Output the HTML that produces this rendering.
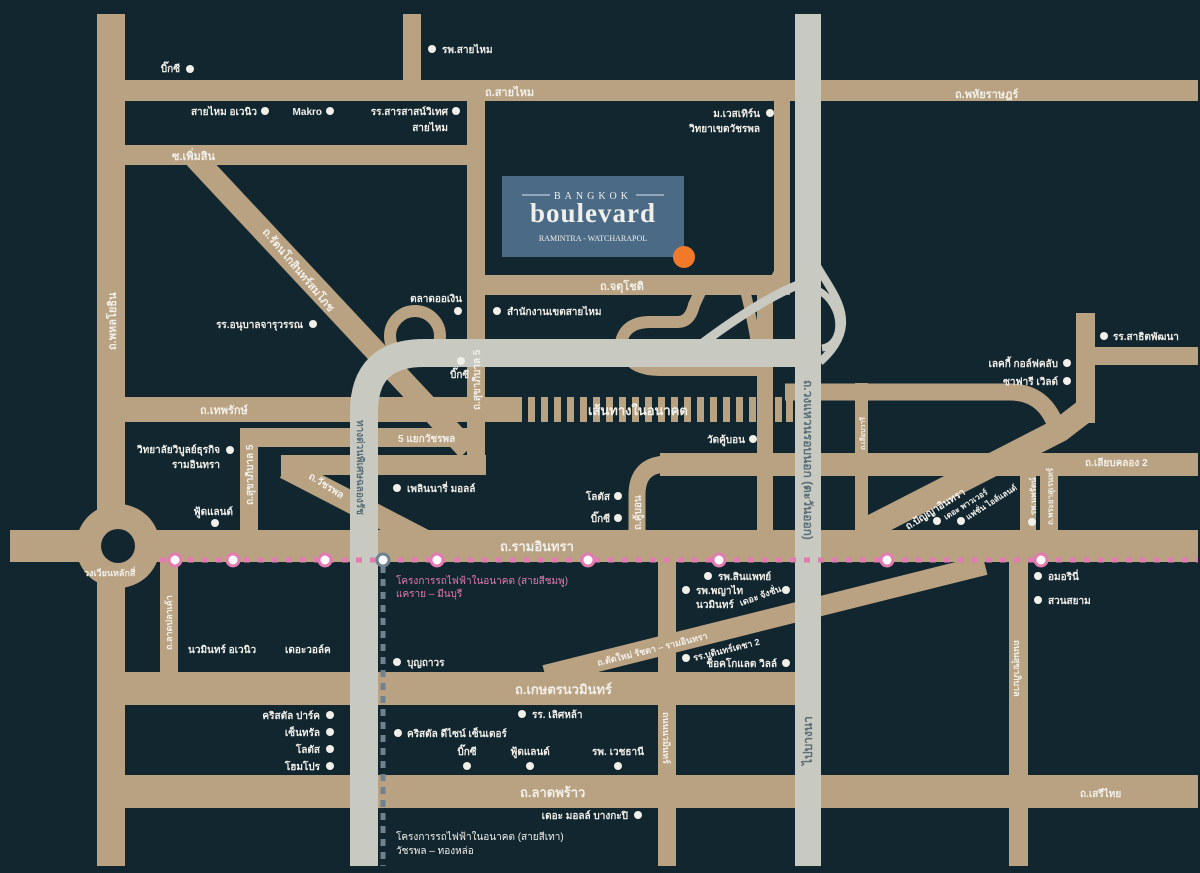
<!DOCTYPE html>
<html><head><meta charset="utf-8"><style>
html,body{margin:0;padding:0;background:#12262f;}
svg{display:block}
text{font-family:"Liberation Sans","Noto Sans CJK SC",sans-serif;fill:#f1efe9;font-size:10px;font-weight:bold}
.rd{font-size:11px}
.big{font-size:13px}
.g{fill:#5b6f78}
.pk{fill:#e27bb0;font-weight:normal}
</style></head><body>
<svg width="1200" height="873" viewBox="0 0 1200 873" xmlns="http://www.w3.org/2000/svg">
<rect width="1200" height="873" fill="#12262f"/>
<g fill="#b9a282">
<rect x="97" y="14" width="28" height="852"/>
<rect x="97" y="80" width="1101" height="21"/>
<rect x="403" y="14" width="18" height="66"/>
<rect x="125" y="145" width="343" height="20"/>
<rect x="467" y="100" width="18" height="375"/>
<rect x="485" y="275" width="305" height="20"/>
<rect x="774" y="100" width="16" height="190"/>
<rect x="125" y="397" width="390" height="25"/>
<rect x="240" y="428" width="230" height="19"/>
<rect x="240" y="428" width="18" height="104"/>
<rect x="281" y="455" width="205" height="20"/>
<rect x="10" y="530" width="1188" height="32"/>
<circle cx="118" cy="546" r="42"/>
<rect x="160" y="562" width="18" height="110"/>
<rect x="125" y="672" width="670" height="33"/>
<rect x="125" y="775" width="1073" height="33"/>
<rect x="658" y="562" width="18" height="304"/>
<rect x="1009" y="562" width="19" height="304"/>
<rect x="757" y="290" width="16" height="240"/>
<rect x="855" y="383" width="13" height="147"/>
<rect x="1076" y="313" width="19" height="110"/>
<rect x="1095" y="347" width="103" height="18"/>
<rect x="660" y="453" width="538" height="23"/>
<rect x="1040" y="470" width="18" height="60"/>
<rect x="1020" y="470" width="16" height="60"/>
</g>
<g fill="none" stroke="#b9a282">
<path d="M637,530 L637,495 Q637,464 668,464 L680,464" stroke-width="17"/>
<path d="M195,158 L468,450" stroke-width="22"/>
<path d="M285,468 L428,542" stroke-width="22"/>
<path d="M865,530 L1060,430 L1086,410" stroke-width="24"/>
<path d="M545,675 L985,565" stroke-width="20"/>
<path d="M785,392 L1010,392 Q1050,392 1060,440" stroke-width="17"/>
<circle cx="415" cy="336" r="25" stroke-width="12"/>
<path d="M620,352 Q620,322 650,322 L678,322 Q690,322 694,305 L700,292" stroke-width="12"/>
<path d="M625,352 Q632,370 660,370 L760,370" stroke-width="12"/>
<path d="M745,290 Q755,330 760,370" stroke-width="10"/>
<path d="M782,255 Q782,280 760,292" stroke-width="10"/>
</g>
<g fill="#b9a282">
<rect x="515" y="397" width="7" height="25"/><rect x="528" y="397" width="7" height="25"/><rect x="541" y="397" width="7" height="25"/><rect x="554" y="397" width="7" height="25"/><rect x="567" y="397" width="7" height="25"/><rect x="580" y="397" width="7" height="25"/><rect x="593" y="397" width="7" height="25"/><rect x="606" y="397" width="7" height="25"/><rect x="619" y="397" width="7" height="25"/><rect x="632" y="397" width="7" height="25"/><rect x="645" y="397" width="7" height="25"/><rect x="658" y="397" width="7" height="25"/><rect x="671" y="397" width="7" height="25"/><rect x="684" y="397" width="7" height="25"/><rect x="697" y="397" width="7" height="25"/><rect x="710" y="397" width="7" height="25"/><rect x="723" y="397" width="7" height="25"/><rect x="736" y="397" width="7" height="25"/><rect x="749" y="397" width="7" height="25"/><rect x="775" y="397" width="7" height="25"/><rect x="786" y="397" width="7" height="25"/>
</g>
<circle cx="118" cy="546" r="17" fill="#12262f"/>
<g fill="none" stroke="#c8cac2">
<path d="M364,866 L364,412 Q364,353 424,353 L808,353" stroke-width="28"/>
<path d="M700,345 Q760,300 800,284" stroke-width="9"/>
<path d="M815,262 C830,292 865,322 820,362" stroke-width="8"/>
<path d="M818,290 C845,305 845,345 822,348" stroke-width="7"/>
</g>
<rect x="795" y="14" width="26" height="852" fill="#c8cac2"/>
<line x1="160" y1="560" x2="1198" y2="560" stroke="#e27bb0" stroke-width="5" stroke-dasharray="6,8"/>
<line x1="383" y1="566" x2="383" y2="866" stroke="#6f8290" stroke-width="5" stroke-dasharray="7,6"/>
<g fill="#fff" stroke="#e27bb0" stroke-width="3">
<circle cx="175" cy="560" r="6"/><circle cx="233" cy="560" r="6"/><circle cx="325" cy="560" r="6"/><circle cx="437" cy="560" r="6"/><circle cx="588" cy="560" r="6"/><circle cx="719" cy="560" r="6"/><circle cx="887" cy="560" r="6"/><circle cx="1041" cy="560" r="6"/>
</g>
<circle cx="383" cy="560" r="6" fill="#fff" stroke="#6f8290" stroke-width="3"/>
<rect x="502" y="176" width="182" height="81" fill="#4a6a86"/>
<line x1="522" y1="195" x2="550" y2="195" stroke="#dfe4ea" stroke-width="1"/><line x1="636" y1="195" x2="664" y2="195" stroke="#dfe4ea" stroke-width="1"/>
<text x="593" y="199" text-anchor="middle" style="font-family:'Liberation Serif',serif;font-size:10px;letter-spacing:4px;font-weight:normal">BANGKOK</text>
<text x="593" y="222" text-anchor="middle" style="font-family:'Liberation Serif',serif;font-size:27px;letter-spacing:1px">boulevard</text>
<text x="593" y="241" text-anchor="middle" style="font-family:'Liberation Serif',serif;font-size:8px;font-weight:normal">RAMINTRA - WATCHARAPOL</text>
<circle cx="684" cy="257" r="11" fill="#f07a2a"/>
<g fill="#f1efe9">
<circle cx="190" cy="69" r="4"/><circle cx="432" cy="49" r="4"/><circle cx="265" cy="111" r="4"/><circle cx="330" cy="111" r="4"/><circle cx="456" cy="111" r="4"/><circle cx="770" cy="113" r="4"/><circle cx="458" cy="311" r="4"/><circle cx="497" cy="311" r="4"/><circle cx="313" cy="324" r="4"/><circle cx="461" cy="361" r="4"/><circle cx="230" cy="450" r="4"/><circle cx="215" cy="523" r="4"/><circle cx="397" cy="488" r="4"/><circle cx="618" cy="496" r="4"/><circle cx="618" cy="518" r="4"/><circle cx="753" cy="439" r="4"/><circle cx="1067" cy="363" r="4"/><circle cx="1067" cy="381" r="4"/><circle cx="1104" cy="336" r="4"/><circle cx="708" cy="576" r="4"/><circle cx="686" cy="590" r="4"/><circle cx="786" cy="590" r="4"/><circle cx="686" cy="658" r="4"/><circle cx="786" cy="663" r="4"/><circle cx="1038" cy="576" r="4"/><circle cx="1038" cy="600" r="4"/><circle cx="397" cy="662" r="4"/><circle cx="330" cy="715" r="4"/><circle cx="330" cy="732" r="4"/><circle cx="330" cy="749" r="4"/><circle cx="330" cy="766" r="4"/><circle cx="522" cy="714" r="4"/><circle cx="398" cy="733" r="4"/><circle cx="467" cy="766" r="4"/><circle cx="530" cy="766" r="4"/><circle cx="618" cy="766" r="4"/><circle cx="638" cy="815" r="4"/><circle cx="937" cy="521" r="4"/><circle cx="961" cy="521" r="4"/><circle cx="1032" cy="522" r="4"/>
</g>
<text x="180" y="72" text-anchor="end">บิ๊กซี</text>
<text x="442" y="53">รพ.สายไหม</text>
<text x="257" y="115" text-anchor="end">สายไหม อเวนิว</text>
<text x="322" y="115" text-anchor="end">Makro</text>
<text x="448" y="115" text-anchor="end">รร.สารสาสน์วิเทศ</text>
<text x="448" y="131" text-anchor="end">สายไหม</text>
<text x="760" y="117" text-anchor="end">ม.เวสเทิร์น</text>
<text x="760" y="132" text-anchor="end">วิทยาเขตวัชรพล</text>
<text x="485" y="96" class="rd">ถ.สายไหม</text>
<text x="955" y="98" class="rd">ถ.พหัยราษฎร์</text>
<text x="172" y="160" class="rd">ซ.เพิ่มสิน</text>
<text x="600" y="290" class="rd">ถ.จตุโชติ</text>
<text x="462" y="302" text-anchor="end">ตลาดออเงิน</text>
<text x="507" y="315">สำนักงานเขตสายไหม</text>
<text x="303" y="328" text-anchor="end">รร.อนุบาลจารุวรรณ</text>
<text x="450" y="378">บิ๊กซี</text>
<text transform="translate(116,350) rotate(-90)" class="rd">ถ.พหลโยธิน</text>
<text transform="translate(262,232) rotate(50)" class="rd">ถ.รัตนโกสินทร์สมโภช</text>
<text x="200" y="414" class="rd">ถ.เทพรักษ์</text>
<text transform="translate(480,410) rotate(-90)">ถ.สุขาภิบาล 5</text>
<text x="588" y="415" class="big">เส้นทางในอนาคต</text>
<text x="398" y="442">5 แยกวัชรพล</text>
<text transform="translate(253,505) rotate(-90)">ถ.สุขาภิบาล 5</text>
<text transform="translate(308,478) rotate(32)">ถ.วัชรพล</text>
<text transform="translate(357,420) rotate(90)" class="g">ทางด่วนพิเศษฉลองรัช</text>
<text x="220" y="453" text-anchor="end">วิทยาลัยวิบูลย์ธุรกิจ</text>
<text x="220" y="468" text-anchor="end">รามอินทรา</text>
<text x="233" y="515" text-anchor="end">ฟู้ดแลนด์</text>
<text x="407" y="492">เพลินนารี่ มอลล์</text>
<text x="610" y="500" text-anchor="end">โลตัส</text>
<text x="610" y="522" text-anchor="end">บิ๊กซี</text>
<text transform="translate(641,530) rotate(-90)">ถ.คู้บอน</text>
<text x="745" y="443" text-anchor="end">วัดคู้บอน</text>
<text transform="translate(804,380) rotate(90)" class="g" style="font-size:12px">ถ.วงแหวนรอบนอก (ตะวันออก)</text>
<text transform="translate(865,450) rotate(-90)" style="font-size:7px">ถ.เลียบวารี</text>
<text x="1058" y="367" text-anchor="end">เลคกี้ กอล์ฟคลับ</text>
<text x="1058" y="385" text-anchor="end">ซาฟารี เวิลด์</text>
<text x="1113" y="340">รร.สาธิตพัฒนา</text>
<text x="1085" y="466">ถ.เลียบคลอง 2</text>
<text transform="translate(908,530) rotate(-32)">ถ.ปัญญาอินทรา</text>
<text transform="translate(946,520) rotate(-32)" style="font-size:8px">เดอะ พาวเวอร์</text>
<text transform="translate(968,520) rotate(-32)" style="font-size:8px">แฟชั่น ไอส์แลนด์</text>
<text transform="translate(1036,515) rotate(-90)" style="font-size:8px">รพ.นพรัตน์</text>
<text transform="translate(1053,525) rotate(-90)" style="font-size:8px">ถ.พระยาสุเรนทร์</text>
<text x="500" y="551" class="big">ถ.รามอินทรา</text>
<text x="84" y="576" style="font-size:9px">วงเวียนหลักสี่</text>
<text x="396" y="584" class="pk">โครงการรถไฟฟ้าในอนาคต (สายสีชมพู)</text>
<text x="396" y="597" class="pk">แคราย – มีนบุรี</text>
<text transform="translate(172,650) rotate(-90)" style="font-size:9px">ถ.ลาดปลาเค้า</text>
<text x="188" y="653">นวมินทร์ อเวนิว</text>
<text x="285" y="653">เดอะวอล์ค</text>
<text x="407" y="666">บุญถาวร</text>
<text x="718" y="580">รพ.สินแพทย์</text>
<text x="696" y="594">รพ.พญาไท</text>
<text x="696" y="608">นวมินทร์</text>
<text transform="translate(741,606) rotate(-20)" style="font-size:9px">เดอะ จังชั่น</text>
<text transform="translate(598,666) rotate(-14)" style="font-size:9px">ถ.ตัดใหม่ รัชดา – รามอินทรา</text>
<text transform="translate(694,661) rotate(-14)" style="font-size:9px">รร.บดินทร์เดชา 2</text>
<text x="777" y="667" text-anchor="end">ช็อคโกแลต วิลล์</text>
<text x="1048" y="580">อมอรินี่</text>
<text x="1048" y="604">สวนสยาม</text>
<text transform="translate(1014,640) rotate(90)" style="font-size:9px">ถนนสุขาภิบาล</text>
<text x="515" y="694" class="big">ถ.เกษตรนวมินทร์</text>
<text x="320" y="719" text-anchor="end">คริสตัล ปาร์ค</text>
<text x="320" y="736" text-anchor="end">เซ็นทรัล</text>
<text x="320" y="753" text-anchor="end">โลตัส</text>
<text x="320" y="770" text-anchor="end">โฮมโปร</text>
<text x="532" y="718">รร. เลิศหล้า</text>
<text x="407" y="737">คริสตัล ดีไซน์ เซ็นเตอร์</text>
<text x="467" y="755" text-anchor="middle">บิ๊กซี</text>
<text x="530" y="755" text-anchor="middle">ฟู้ดแลนด์</text>
<text x="618" y="755" text-anchor="middle">รพ. เวชธานี</text>
<text transform="translate(663,712) rotate(90)" style="font-size:9px">ถนนนวมินทร์</text>
<text transform="translate(812,765) rotate(-90)" class="g" style="font-size:12px">ไปบางนา</text>
<text x="520" y="797" class="big">ถ.ลาดพร้าว</text>
<text x="1080" y="797">ถ.เสรีไทย</text>
<text x="628" y="819" text-anchor="end">เดอะ มอลล์ บางกะปิ</text>
<text x="396" y="840" style="font-weight:normal">โครงการรถไฟฟ้าในอนาคต (สายสีเทา)</text>
<text x="396" y="854" style="font-weight:normal">วัชรพล – ทองหล่อ</text>
</svg>
</body></html>
